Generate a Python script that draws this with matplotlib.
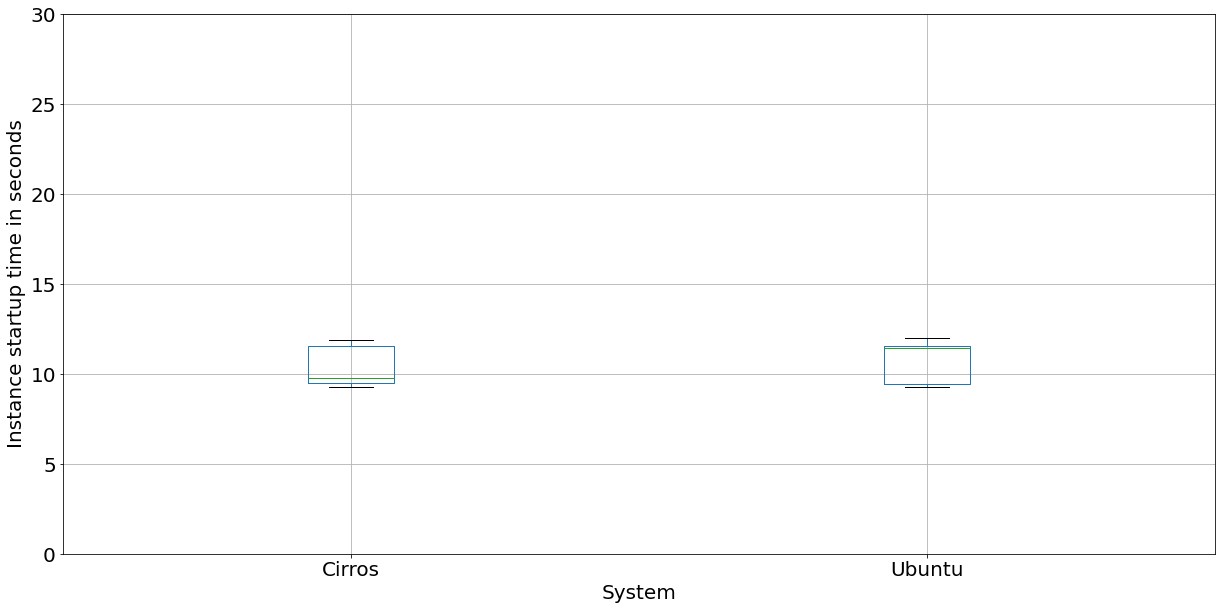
import matplotlib
matplotlib.use("Agg")
import matplotlib.pyplot as plt

systems = ["Cirros", "Ubuntu"]
whislo = [9.26, 9.26]
q1 = [9.48, 9.44]
medians = [9.76, 11.43]
q3 = [11.54, 11.54]
whishi = [11.87, 11.98]

stats = [dict(label=s, whislo=lo, q1=a, med=m, q3=b, whishi=hi, fliers=[])
         for s, lo, a, m, b, hi in zip(systems, whislo, q1, medians, q3, whishi)]

DPI = 72
fig = plt.figure(figsize=(1222/DPI, 610/DPI), dpi=DPI)
ax = fig.add_axes([63/1222, 1-554/610, (1215-63)/1222, (554-14)/610])
ax.bxp(stats, positions=[1, 2], widths=0.15, showfliers=False,
       boxprops=dict(color="#1f77b4"),
       whiskerprops=dict(color="#1f77b4"),
       capprops=dict(color="black"),
       medianprops=dict(color="#2ca02c"))
ax.set_xlim(0.5, 2.5)
ax.set_ylim(0, 30)
ax.grid(True, color="#b0b0b0")
ax.set_axisbelow(True)
ax.tick_params(labelsize=20)
ax.set_xlabel("System", fontsize=20)
ax.set_ylabel("Instance startup time in seconds", fontsize=20)
fig.savefig("out.png", dpi=DPI)
